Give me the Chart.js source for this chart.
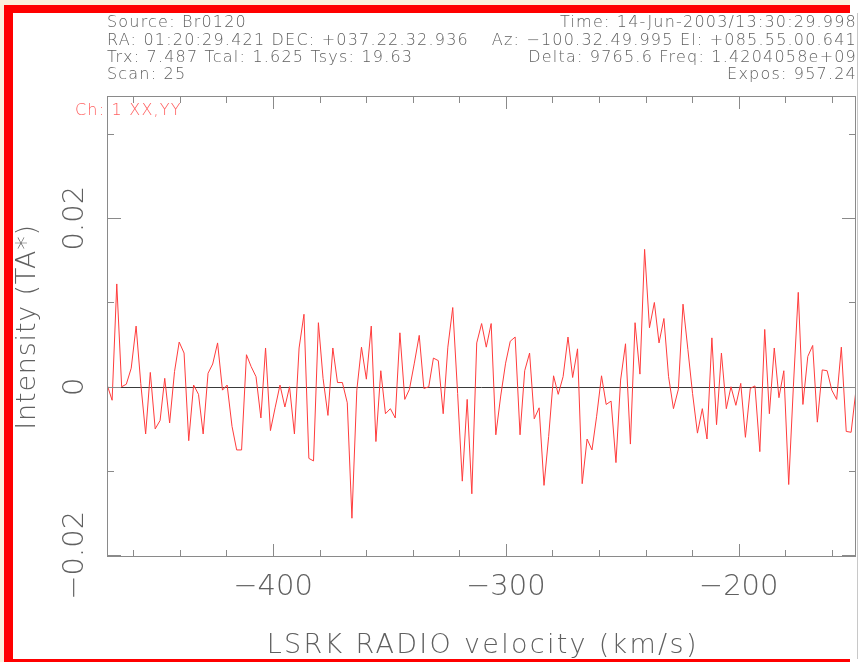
<!DOCTYPE html>
<html><head><meta charset="utf-8">
<script src="https://cdn.jsdelivr.net/npm/chart.js@4.4.1/dist/chart.umd.min.js"></script>
<style>html,body{margin:0;padding:0;background:#fff;overflow:hidden}canvas{display:block}</style>
</head><body>
<canvas id="c" width="858" height="662"></canvas>
<script>
// ---- data ----
const velocity = [
-471.2,-469.1,-467.1,-465.0,-463.0,-460.9,-458.8,-456.8,-454.7,-452.7,
-450.6,-448.5,-446.5,-444.4,-442.3,-440.3,-438.2,-436.2,-434.1,-432.0,
-430.0,-427.9,-425.9,-423.8,-421.7,-419.7,-417.6,-415.6,-413.5,-411.4,
-409.4,-407.3,-405.2,-403.2,-401.1,-399.1,-397.0,-394.9,-392.9,-390.8,
-388.8,-386.7,-384.6,-382.6,-380.5,-378.5,-376.4,-374.3,-372.3,-370.2,
-368.1,-366.1,-364.0,-362.0,-359.9,-357.8,-355.8,-353.7,-351.7,-349.6,
-347.5,-345.5,-343.4,-341.4,-339.3,-337.2,-335.2,-333.1,-331.1,-329.0,
-326.9,-324.9,-322.8,-320.7,-318.7,-316.6,-314.6,-312.5,-310.4,-308.4,
-306.3,-304.3,-302.2,-300.1,-298.1,-296.0,-293.9,-291.9,-289.8,-287.8,
-285.7,-283.6,-281.6,-279.5,-277.5,-275.4,-273.3,-271.3,-269.2,-267.2,
-265.1,-263.0,-261.0,-258.9,-256.9,-254.8,-252.7,-250.7,-248.6,-246.5,
-244.5,-242.4,-240.4,-238.3,-236.2,-234.2,-232.1,-230.1,-228.0,-225.9,
-223.9,-221.8,-219.8,-217.7,-215.6,-213.6,-211.5,-209.5,-207.4,-205.3,
-203.3,-201.2,-199.1,-197.1,-195.0,-193.0,-190.9,-188.8,-186.8,-184.7,
-182.7,-180.6,-178.5,-176.5,-174.4,-172.4,-170.3,-168.2,-166.2,-164.1,
-162.0,-160.0,-157.9,-155.9,-153.8,-151.7,-149.7
];
const intensity = [
0.0002,-0.0016,0.0122,0.0000,0.0003,0.0022,0.0072,0.0004,-0.0056,0.0017,
-0.0050,-0.0040,0.0010,-0.0043,0.0018,0.0053,0.0040,-0.0064,0.0002,-0.0009,
-0.0056,0.0016,0.0027,0.0052,-0.0004,0.0002,-0.0047,-0.0075,-0.0075,0.0038,
0.0024,0.0012,-0.0037,0.0046,-0.0052,-0.0025,0.0002,-0.0024,0.0000,-0.0056,
0.0046,0.0086,-0.0085,-0.0088,0.0076,0.0010,-0.0034,0.0046,0.0005,0.0005,
-0.0019,-0.0156,-0.0004,0.0047,0.0009,0.0072,-0.0065,0.0019,-0.0032,-0.0026,
-0.0037,0.0064,-0.0015,-0.0003,0.0028,0.0061,-0.0002,0.0000,0.0034,0.0031,
-0.0032,0.0047,0.0094,-0.0008,-0.0112,-0.0015,-0.0127,0.0052,0.0075,0.0047,
0.0075,-0.0057,-0.0011,0.0028,0.0054,0.0059,-0.0057,0.0019,0.0040,-0.0038,
-0.0025,-0.0117,-0.0059,0.0013,-0.0009,0.0012,0.0059,0.0011,0.0045,-0.0115,
-0.0062,-0.0075,-0.0035,0.0013,-0.0021,-0.0017,-0.0090,0.0008,0.0051,-0.0068,
0.0076,0.0015,0.0163,0.0070,0.0100,0.0052,0.0081,0.0012,-0.0026,-0.0003,
0.0098,0.0044,-0.0008,-0.0055,-0.0026,-0.0062,0.0058,-0.0045,0.0040,-0.0026,
0.0000,-0.0022,0.0004,-0.0060,-0.0002,0.0001,-0.0077,0.0068,-0.0032,0.0046,
-0.0013,0.0019,-0.0116,0.0000,0.0112,-0.0021,0.0036,0.0049,-0.0042,0.0020,
0.0019,-0.0004,-0.0015,0.0047,-0.0053,-0.0054,-0.0006
];
const xRange = [-471.3, -149.6];
const yRange = [-0.0202, 0.0345];
const xMajorTicks = [-400, -300, -200];
const xTickLabels = ["\u2212400", "\u2212300", "\u2212200"];
const xMinorTicks = [-460,-440,-420,-380,-360,-340,-320,-280,-260,-240,-220,-180,-160];
const yMajorTicks = [-0.02, 0, 0.02];
const yTickLabels = ["\u22120.02", "0", "0.02"];
const yMinorTicks = [-0.01, 0.01, 0.03];
const headerLeft = ["Source: Br0120", "RA: 01:20:29.421 DEC: +037.22.32.936", "Trx: 7.487 Tcal: 1.625 Tsys: 19.63", "Scan: 25"];
const headerRight = ["Time: 14-Jun-2003/13:30:29.998", "Az: \u2212100.32.49.995 El: +085.55.00.641", "Delta: 9765.6 Freq: 1.4204058e+09", "Expos: 957.24"];
const channelLabel = "Ch: 1 XX,YY";
const xTitle = "LSRK RADIO velocity (km/s)";
const yTitle = "Intensity (TA*)";

// ---- styling ----
const FONT = "'DejaVu Sans', 'Liberation Sans', sans-serif";
const GREY = '#606060';
const FRAME = '#8a8a8a';

function setSpacing(ctx, px) { try { ctx.letterSpacing = px + 'px'; } catch (e) {} }

const decor = {
  id: 'decor',
  beforeDraw(chart) {
    const ctx = chart.ctx;
    ctx.save();
    ctx.fillStyle = '#ffffff'; ctx.fillRect(0, 0, 858, 662);
    ctx.fillStyle = '#fbf0dc'; ctx.fillRect(0, 0, 850, 5); ctx.fillRect(0, 0, 4, 662);
    ctx.fillStyle = '#ff0000';
    ctx.fillRect(4, 5, 846, 8);    // top bar
    ctx.fillRect(4, 5, 9, 657);    // left bar
    ctx.fillRect(4, 659, 846, 3);  // bottom bar
    ctx.strokeStyle = '#c8c8c8'; ctx.lineWidth = 1;
    ctx.beginPath(); ctx.moveTo(857.5, 13); ctx.lineTo(857.5, 659); ctx.stroke();
    ctx.restore();
  },
  beforeDatasetsDraw(chart) {
    const ctx = chart.ctx, {left, right} = chart.chartArea;
    const y0 = Math.round(chart.scales.y.getPixelForValue(0)) + 0.5;
    ctx.save();
    ctx.strokeStyle = '#3a3a3a'; ctx.lineWidth = 1;
    ctx.beginPath(); ctx.moveTo(left, y0); ctx.lineTo(right, y0); ctx.stroke();
    ctx.restore();
  },
  afterDraw(chart) {
    const ctx = chart.ctx, {left, right, top, bottom} = chart.chartArea;
    const xs = chart.scales.x, ys = chart.scales.y;
    ctx.save();
    ctx.strokeStyle = FRAME; ctx.lineWidth = 1;
    ctx.strokeRect(left + 0.5, top + 0.5, right - left - 1, bottom - top - 1);
    const seg = (a, b, c, d) => { ctx.beginPath(); ctx.moveTo(a, b); ctx.lineTo(c, d); ctx.stroke(); };
    const xt = (v, len) => { const p = Math.round(xs.getPixelForValue(v)) + 0.5; seg(p, bottom, p, bottom - len); seg(p, top, p, top + len); };
    const yt = (v, len) => { const p = Math.round(ys.getPixelForValue(v)) + 0.5; seg(left, p, left + len, p); seg(right, p, right - len, p); };
    xMajorTicks.forEach(v => xt(v, 13));
    xMinorTicks.forEach(v => xt(v, 7));
    yMajorTicks.forEach(v => yt(v, 14));
    yMinorTicks.forEach(v => yt(v, 7));
    ctx.fillStyle = GREY;
    ctx.font = "200 29px " + FONT;
    ctx.textAlign = 'center'; ctx.textBaseline = 'middle';
    ys.ticks.forEach((t, i) => {
      const p = ys.getPixelForValue(t.value);
      ctx.save(); ctx.translate(75, p); ctx.rotate(-Math.PI / 2);
      ctx.fillText(yTickLabels[i], 0, 0); ctx.restore();
    });
    ctx.font = "200 27px " + FONT;
    ctx.textBaseline = 'alphabetic'; ctx.textAlign = 'center';
    setSpacing(ctx, 2.3);
    ctx.fillText(xTitle, (left + right) / 2 + 1.2, 653);
    setSpacing(ctx, 0.8);
    ctx.save(); ctx.translate(35, (top + bottom) / 2 + 0.4); ctx.rotate(-Math.PI / 2);
    ctx.fillText(yTitle, 0, 0); ctx.restore();
    ctx.font = "200 16px " + FONT;
    setSpacing(ctx, 1.2);
    const base = [27, 45, 62, 79];
    ctx.textAlign = 'left';
    headerLeft.forEach((s, i) => ctx.fillText(s, 107, base[i]));
    ctx.textAlign = 'right';
    headerRight.forEach((s, i) => ctx.fillText(s, 857, base[i]));
    ctx.fillStyle = '#ff6060'; ctx.textAlign = 'left';
    ctx.fillText(channelLabel, 75, 115);
    ctx.restore();
  }
};

new Chart(document.getElementById('c'), {
  type: 'line',
  data: {
    datasets: [{
      data: velocity.map((v, i) => ({x: v, y: intensity[i]})),
      borderColor: '#ff3c3c', borderWidth: 1, pointRadius: 0, tension: 0, fill: false
    }]
  },
  options: {
    responsive: false, animation: false, devicePixelRatio: 1,
    layout: {padding: {top: 96, right: 2, left: 0, bottom: 0}},
    plugins: {legend: {display: false}, tooltip: {enabled: false}},
    scales: {
      x: {
        type: 'linear', min: xRange[0], max: xRange[1],
        afterBuildTicks: s => { s.ticks = xMajorTicks.map(v => ({value: v})); },
        afterFit: s => { s.height = 105; },
        grid: {display: false, drawTicks: false}, border: {display: false},
        ticks: {color: GREY, font: {family: FONT, size: 29, weight: '200'}, padding: 13,
                maxRotation: 0, autoSkip: false, callback: (v, i) => xTickLabels[i]},
        title: {display: false}
      },
      y: {
        type: 'linear', min: yRange[0], max: yRange[1],
        afterBuildTicks: s => { s.ticks = yMajorTicks.map(v => ({value: v})); },
        afterFit: s => { s.width = 107; },
        grid: {display: false, drawTicks: false}, border: {display: false},
        ticks: {display: false},
        title: {display: false}
      }
    }
  },
  plugins: [decor]
});
</script>
</body></html>
